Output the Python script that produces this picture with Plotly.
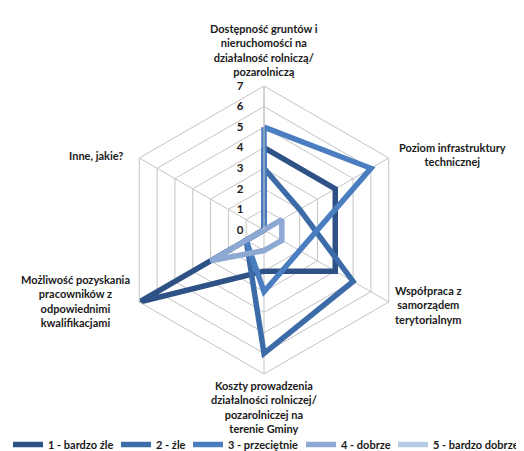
import plotly.graph_objects as go

# category labels, clockwise from the top
categories = [
    "Dostępność gruntów i<br>nieruchomości na<br>działalność rolniczą/<br>pozarolniczą",
    "Poziom infrastruktury<br>technicznej",
    "Współpraca z<br>samorządem<br>terytorialnym",
    "Koszty prowadzenia<br>działalności rolniczej/<br>pozarolniczej na<br>terenie Gminy",
    "Możliwość pozyskania<br>pracowników z<br>odpowiednimi<br>kwalifikacjami",
    "Inne, jakie?",
]
series_names = ["1 - bardzo źle", "2 - źle", "3 - przeciętnie", "4 - dobrze", "5 - bardzo dobrze"]
bardzo_zle = [4, 4, 4, 2, 7, 0]
zle = [3, 2, 5, 6, 1, 0]
przecietnie = [5, 6, 2, 3, 1, 0]
dobrze = [0, 1, 1, 1, 3, 0]
bardzo_dobrze = [0, 0, 0, 0, 0, 0]
colors = ["#2F5286", "#3D6BA8", "#4A7EC0", "#8DA8D2", "#B7CBE4"]
# width reserved for each legend text (keeps the legend compact like the original)
legend_widths = [63, 27, 68, 47, 90]

W, H = 524, 451
FONT = "Lato"
GRID = "#C4C4C4"
TXT = "#1a1a1a"

fig = go.Figure()
theta_ids = [f"c{i}" for i in range(len(categories))]
all_series = [bardzo_zle, zle, przecietnie, dobrze, bardzo_dobrze]
for name, vals, col, lw in zip(series_names, all_series, colors, legend_widths):
    fig.add_trace(go.Scatterpolar(
        r=vals + vals[:1],
        theta=theta_ids + theta_ids[:1],
        mode="lines",
        name=name,
        line=dict(color=col, width=5.5),
        legendwidth=lw,
        hoverinfo="skip",
    ))

# label positions in pixels (centre of each text block)
label_pos = [(256, 42), (444, 146), (420, 297), (256, 399), (67, 293), (88, 147)]
for txt, (px, py) in zip(categories, label_pos):
    fig.add_annotation(
        x=px / W, y=1 - py / H, xref="paper", yref="paper",
        text=txt, showarrow=False, xanchor="center", yanchor="middle",
        align="center", font=dict(family=FONT, size=11, color=TXT, weight="bold"),
    )

fig.update_layout(
    width=W, height=H,
    margin=dict(l=0, r=0, t=0, b=0),
    paper_bgcolor="white",
    font=dict(family=FONT, size=11, color=TXT),
    polar=dict(
        domain=dict(x=[112 / W, 400 / W], y=[1 - 366 / H, 1 - 78 / H]),
        gridshape="linear",
        bgcolor="white",
        radialaxis=dict(
            range=[0, 7], dtick=1, angle=90, tickangle=90,
            showline=True, linecolor=GRID, gridcolor=GRID,
            ticks="outside", ticklen=16, tickcolor="rgba(0,0,0,0)",
            side="counterclockwise",
            tickfont=dict(family=FONT, size=11.5, weight="bold", color=TXT),
        ),
        angularaxis=dict(
            rotation=90, direction="clockwise", showticklabels=False, ticks="",
            linecolor=GRID, gridcolor=GRID,
            categoryorder="array", categoryarray=theta_ids,
        ),
    ),
    showlegend=True,
    legend=dict(
        orientation="h", x=0.0, xanchor="left", y=0.0, yanchor="bottom",
        font=dict(family=FONT, size=11, weight="bold", color=TXT),
        itemwidth=30, tracegroupgap=0,
    ),
)

fig.write_html("out.html")
